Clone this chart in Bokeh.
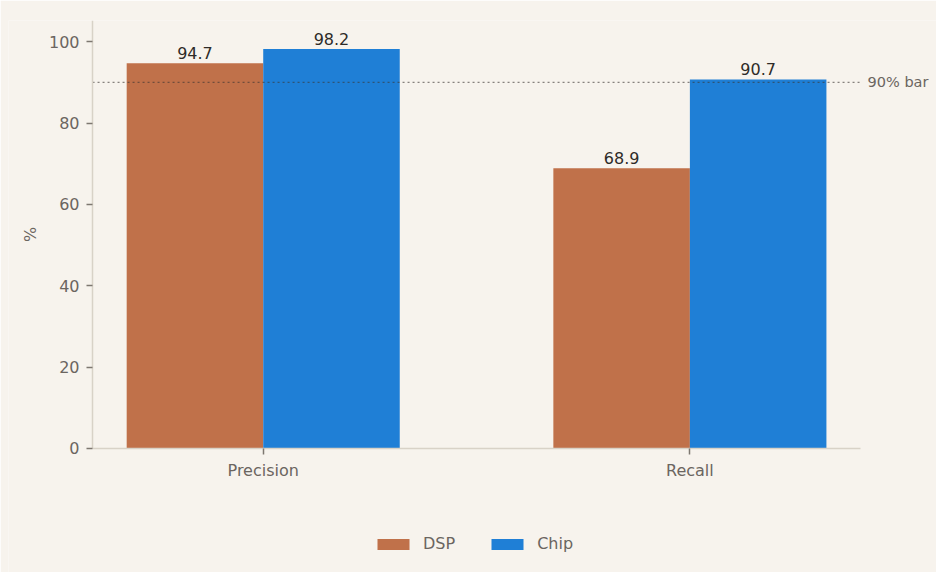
import math

from bokeh.plotting import figure
from bokeh.models import ColumnDataSource, Label, Legend, LegendItem, FixedTicker, Range1d
from bokeh.transform import dodge
from bokeh.core.properties import value
from bokeh.embed import file_html
from bokeh.resources import INLINE

metrics = ["Precision", "Recall"]
dsp = [94.7, 68.9]
chip = [98.2, 90.7]
threshold = 90
threshold_label = "90% bar"
y_ticks = [0, 20, 40, 60, 80, 100]

BG = "#f7f3ed"
FONT = "DejaVu Sans"
MUTED = "#6b6560"

src = ColumnDataSource(dict(
    x=list(range(len(metrics))),
    dsp=dsp,
    chip=chip,
    dsp_txt=[f"{v:.1f}" for v in dsp],
    chip_txt=[f"{v:.1f}" for v in chip],
))

# the frame is bigger than the axes: room on the left for the y label,
# on the right for the threshold note and below zero for the legend
# (anything outside the frame gets clipped, side-panel legends misbehave)
x_lo, x_hi = -0.4, len(metrics) - 0.6
x_room_left = 0.197
x_room_right = 0.178
y_hi = 105.2
y_room = 30.5

p = figure(width=936, height=572, output_backend="svg", toolbar_location=None,
           x_range=Range1d(x_lo - x_room_left, x_hi + x_room_right),
           y_range=Range1d(-y_room, y_hi),
           min_border_left=8, min_border_right=0, min_border_top=20, min_border_bottom=0)
p.background_fill_color = BG
p.border_fill_color = BG
p.outline_line_color = None
p.grid.visible = False

w = 0.32
r1 = p.vbar(x=dodge("x", -w / 2), top="dsp", width=w, source=src,
            fill_color="#c0714a", line_color=None)
r2 = p.vbar(x=dodge("x", w / 2), top="chip", width=w, source=src,
            fill_color="#1f7fd6", line_color=None)

for col, off in (("dsp_txt", -w / 2), ("chip_txt", w / 2)):
    top = col.split("_")[0]
    p.text(x=dodge("x", off), y=top, text=col, source=src, y_offset=-4,
           text_align="center", text_baseline="bottom", text_color="#2e2b28",
           text_font=value(FONT), text_font_size="16px")

p.line(x=[x_lo, x_hi], y=[threshold, threshold], line_color="#3a3632",
       line_alpha=0.6, line_width=1.3, line_dash="2 3")
p.add_layout(Label(x=x_hi, y=threshold, x_offset=7, text=threshold_label,
                   text_baseline="middle", text_color=MUTED, text_font=FONT,
                   text_font_size="14.5px"))

# y axis title, drawn by hand so it centres on the 0..y_hi part only
p.add_layout(Label(x=x_lo, y=y_hi / 2, x_offset=-62, text="%", angle=math.pi / 2,
                   text_align="center", text_baseline="middle", text_color=MUTED,
                   text_font=FONT, text_font_size="16px"))

p.xaxis.ticker = FixedTicker(ticks=list(range(len(metrics))))
p.xaxis.major_label_overrides = {i: m for i, m in enumerate(metrics)}
p.xaxis.bounds = (x_lo, x_hi)
p.xaxis.fixed_location = 0
p.yaxis.ticker = FixedTicker(ticks=y_ticks)
p.yaxis.bounds = (0, y_hi)
p.yaxis.fixed_location = x_lo
for ax in (p.xaxis, p.yaxis):
    ax.axis_line_color = "#d8d2c7"
    ax.axis_line_width = 1.5
    ax.major_tick_line_color = "#7d7770"
    ax.major_tick_line_width = 1.5
    ax.major_tick_in = 0
    ax.major_tick_out = 6
    ax.minor_tick_line_color = None
    ax.major_label_standoff = 7
    ax.major_label_text_color = MUTED
    ax.major_label_text_font = FONT
    ax.major_label_text_font_size = "16px"

legend = Legend(items=[LegendItem(label="DSP", renderers=[r1]),
                       LegendItem(label="Chip", renderers=[r2])],
                orientation="horizontal", location=(365, 19),
                background_fill_alpha=0, border_line_color=None,
                glyph_width=40, glyph_height=14, label_standoff=10, spacing=32,
                label_text_color=MUTED, label_text_font=FONT, label_text_font_size="16px",
                padding=10, margin=0)
p.add_layout(legend)

open("out.html", "w").write(file_html(p, INLINE))
